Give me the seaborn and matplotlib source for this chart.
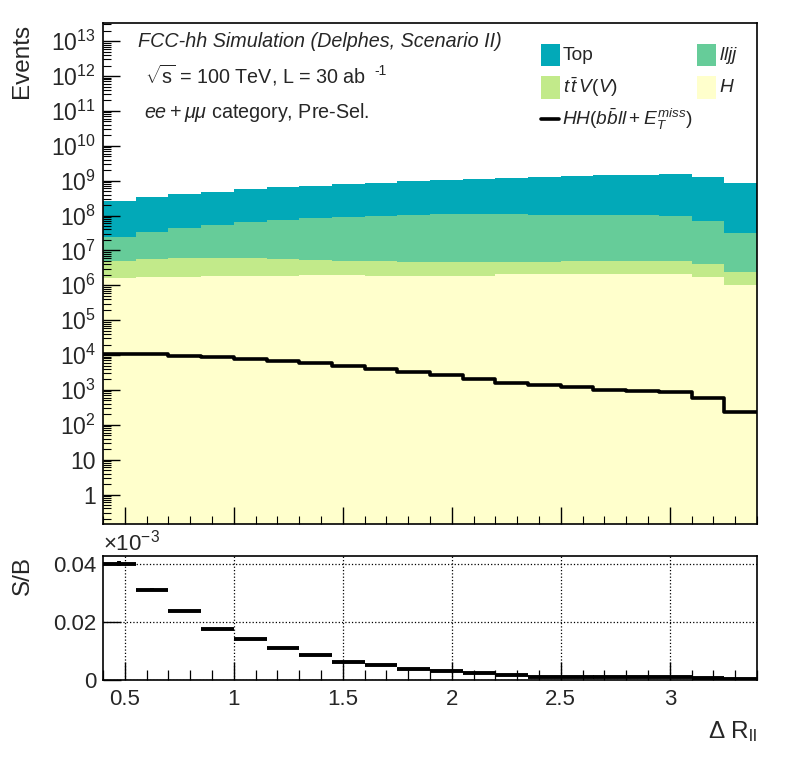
import numpy as np
import pandas as pd
import matplotlib
matplotlib.use("Agg")
import matplotlib.pyplot as plt
import seaborn as sns
from matplotlib.ticker import FixedLocator, LogLocator, FuncFormatter, MultipleLocator, NullFormatter
from matplotlib.patches import Rectangle
from matplotlib.lines import Line2D

# ---------------- data ----------------
bin_edges = [0.4, 0.55, 0.7, 0.85, 1.0, 1.15, 1.3, 1.45, 1.6, 1.75, 1.9,
             2.05, 2.2, 2.35, 2.5, 2.65, 2.8, 2.95, 3.1, 3.25, 3.4]
top = [2.39e8, 3.05e8, 3.73e8, 4.25e8, 5.09e8, 5.89e8, 6.25e8, 7.22e8, 7.73e8, 8.72e8,
       9.35e8, 1.01e9, 1.09e9, 1.18e9, 1.275e9, 1.37e9, 1.37e9, 1.49e9, 1.22e9, 8.4e8]
lljj = [1.95e7, 2.83e7, 3.77e7, 4.77e7, 6.0e7, 6.68e7, 7.8e7, 8.6e7, 9.27e7, 1.0e8,
        1.075e8, 1.075e8, 1.075e8, 1.0e8, 9.97e7, 9.97e7, 9.97e7, 9.27e7, 6.5e7, 2.92e7]
ttv = [3.35e6, 3.88e6, 4.29e6, 4.17e6, 4.17e6, 3.76e6, 3.25e6, 3.01e6, 3.15e6, 2.82e6,
       2.82e6, 2.82e6, 2.54e6, 2.54e6, 2.87e6, 2.87e6, 2.87e6, 2.87e6, 2.33e6, 1.38e6]
higgs = [1.66e6, 1.74e6, 1.74e6, 1.86e6, 1.86e6, 1.86e6, 2.0e6, 2.0e6, 1.86e6, 1.86e6,
         1.86e6, 1.86e6, 2.14e6, 2.14e6, 2.14e6, 2.14e6, 2.14e6, 2.14e6, 1.74e6, 1.02e6]
signal = [1.05e4, 1.05e4, 9.5e3, 8.5e3, 7.8e3, 6.9e3, 6.0e3, 5.0e3, 4.1e3, 3.2e3,
          2.75e3, 2.1e3, 1.6e3, 1.4e3, 1.23e3, 1.02e3, 950, 890, 600, 240]
# S/B in units of 1e-3
s_over_b = [0.0400, 0.0310, 0.0236, 0.0176, 0.0141, 0.0110, 0.0086, 0.0062, 0.0049, 0.0036,
            0.0028, 0.0021, 0.0014, 0.0010, 0.0010, 0.0007, 0.0007, 0.0007, 0.0005, 0.0003]
s_over_b_err = [0.0009, 0.0006, 0, 0, 0, 0, 0, 0, 0, 0,
                0, 0, 0, 0, 0, 0, 0, 0, 0, 0]

labels = ["Top", "$lljj$", r"$t\,\bar{t}\,V(V)$", "$H$"]
colors = {"Top": "#02a9b8", "lljj": "#66cc99", "ttV": "#c2ea8a", "H": "#ffffcc"}

edges = np.array(bin_edges)
centers = 0.5 * (edges[:-1] + edges[1:])
c_h = np.array(higgs)
c_v = c_h + np.array(ttv)
c_l = c_v + np.array(lljj)
c_t = c_l + np.array(top)

# ---------------- style ----------------
sns.set_style("ticks")
plt.rcParams["font.family"] = ["Liberation Sans", "DejaVu Sans"]
plt.rcParams["mathtext.fontset"] = "custom"
plt.rcParams["mathtext.rm"] = "Liberation Sans"
plt.rcParams["mathtext.it"] = "Liberation Sans:italic"
plt.rcParams["mathtext.bf"] = "Liberation Sans:bold"
plt.rcParams["mathtext.sf"] = "Liberation Sans"
plt.rcParams["xtick.minor.visible"] = True
plt.rcParams["ytick.minor.visible"] = True

W, H = 796, 772
fig = plt.figure(figsize=(W / 100, H / 100), dpi=100)

def fx(px):
    return px / W

def fy(py):
    return 1 - py / H

ax = fig.add_axes([fx(103), fy(524), fx(757) - fx(103), fy(23) - fy(524)])
ax2 = fig.add_axes([fx(103), fy(679.5), fx(757) - fx(103), fy(555.5) - fy(679.5)])

# ---------------- top panel ----------------
for cum, col in [(c_t, colors["Top"]), (c_l, colors["lljj"]), (c_v, colors["ttV"]), (c_h, colors["H"])]:
    df = pd.DataFrame({"x": centers, "w": cum})
    sns.histplot(data=df, x="x", weights="w", bins=bin_edges, element="step", fill=True,
                 color=col, alpha=1.0, linewidth=0, ax=ax, zorder=0.5)
df_sig = pd.DataFrame({"x": centers, "w": signal})
sns.histplot(data=df_sig, x="x", weights="w", bins=bin_edges, element="step", fill=False,
             color="black", linewidth=2.6, ax=ax, zorder=1)

ax.set_yscale("log")
ax.set_xlim(0.4, 3.4)
ax.set_ylim(10 ** -0.845, 10 ** 13.52)
ax.set_xlabel("")
ax.set_ylabel("")
ax.set_axisbelow(False)

def logfmt(v, pos):
    k = int(round(np.log10(v)))
    if k == 0:
        return "1"
    if k == 1:
        return "10"
    return r"$10^{%d}$" % k

ax.yaxis.set_major_locator(FixedLocator([10.0 ** k for k in range(0, 14)]))
ax.yaxis.set_major_formatter(FuncFormatter(logfmt))
ax.yaxis.set_minor_locator(LogLocator(base=10, subs=np.arange(2, 10), numticks=100))
ax.yaxis.set_minor_formatter(NullFormatter())
ax.xaxis.set_major_locator(MultipleLocator(0.5))
ax.xaxis.set_minor_locator(MultipleLocator(0.1))
ax.tick_params(axis="both", which="major", direction="in", length=12.5, width=1.0,
               color="black", labelsize=16.5, top=False, right=False, pad=5)
ax.tick_params(axis="both", which="minor", direction="in", length=6, width=0.8,
               color="black", top=False, right=False)
ax.tick_params(axis="x", which="both", labelbottom=False)
for s in ax.spines.values():
    s.set_linewidth(1.2)
    s.set_color("black")

# ---------------- bottom panel ----------------
ax2.grid(True, which="major", linestyle=":", color="black", linewidth=0.9)
ax2.set_axisbelow(False)
ax2.errorbar(centers, s_over_b, xerr=0.075, yerr=s_over_b_err, fmt="none",
             ecolor="black", elinewidth=2.8, capsize=0, zorder=3)
ax2.set_xlim(0.4, 3.4)
ax2.set_ylim(0, 0.0428)
ax2.xaxis.set_major_locator(MultipleLocator(0.5))
ax2.xaxis.set_minor_locator(MultipleLocator(0.1))
ax2.xaxis.set_major_formatter(FuncFormatter(lambda v, p: "%g" % v))
ax2.yaxis.set_major_locator(FixedLocator([0, 0.02, 0.04]))
ax2.yaxis.set_major_formatter(FuncFormatter(lambda v, p: "0" if v == 0 else ("%.2f" % v)))
ax2.tick_params(axis="both", which="major", direction="in", length=13, width=1.0,
                color="black", labelsize=16, top=False, right=False, pad=5)
ax2.tick_params(axis="x", which="major", pad=7)
ax2.tick_params(axis="x", which="minor", direction="in", length=7, width=0.9,
                color="black", top=False)
ax2.tick_params(axis="y", which="minor", left=False, right=False)
for s in ax2.spines.values():
    s.set_linewidth(1.2)
    s.set_color("black")

# ---------------- texts ----------------
fig.text(fx(22.5), fy(24), "Events", rotation=90, ha="center", va="top", fontsize=17.5)
fig.text(fx(22.5), fy(556), "S/B", rotation=90, ha="center", va="top", fontsize=17.5)
fig.text(fx(757), fy(738), r"Δ R$_{\mathrm{ll}}$", ha="right", va="baseline", fontsize=17.5)
fig.text(fx(103), fy(550), r"$\times$10$^{-3}$", ha="left", va="baseline", fontsize=16)

fig.text(fx(138), fy(47), "FCC-hh Simulation (Delphes, Scenario II)", style="italic",
         ha="left", va="baseline", fontsize=14.2)
fig.text(fx(145), fy(83), r"$\sqrt{\mathrm{s}}$ = 100 TeV, L = 30 ab",
         ha="left", va="baseline", fontsize=14.2)
fig.text(fx(374), fy(75), "-1", ha="left", va="baseline", fontsize=10)
fig.text(fx(144), fy(118), r"$ee+\mu\mu$ category, Pre-Sel.",
         ha="left", va="baseline", fontsize=14.2)

# ---------------- legend (manual, ROOT-like) ----------------
entries = [
    (541, 44, 66, colors["Top"], labels[0]),
    (697, 44, 66, colors["lljj"], labels[1]),
    (541, 76, 99, colors["ttV"], labels[2]),
    (697, 76, 99, colors["H"], labels[3]),
]
for x0, y0, y1, col, lab in entries:
    fig.patches.append(Rectangle((fx(x0), fy(y1)), fx(x0 + 19) - fx(x0), fy(y0) - fy(y1),
                                 transform=fig.transFigure, facecolor=col, edgecolor="none"))
    fig.text(fx(x0 + 22), fy((y0 + y1) / 2), lab, ha="left", va="center", fontsize=13.8)
fig.lines.append(Line2D([fx(541), fx(559)], [fy(119), fy(119)], transform=fig.transFigure,
                        color="black", linewidth=2.6))
fig.text(fx(562), fy(119), r"$HH(b\bar{b}ll+E_{T}^{miss})$", ha="left", va="center", fontsize=13.8)

fig.savefig("out.png", dpi=100)
